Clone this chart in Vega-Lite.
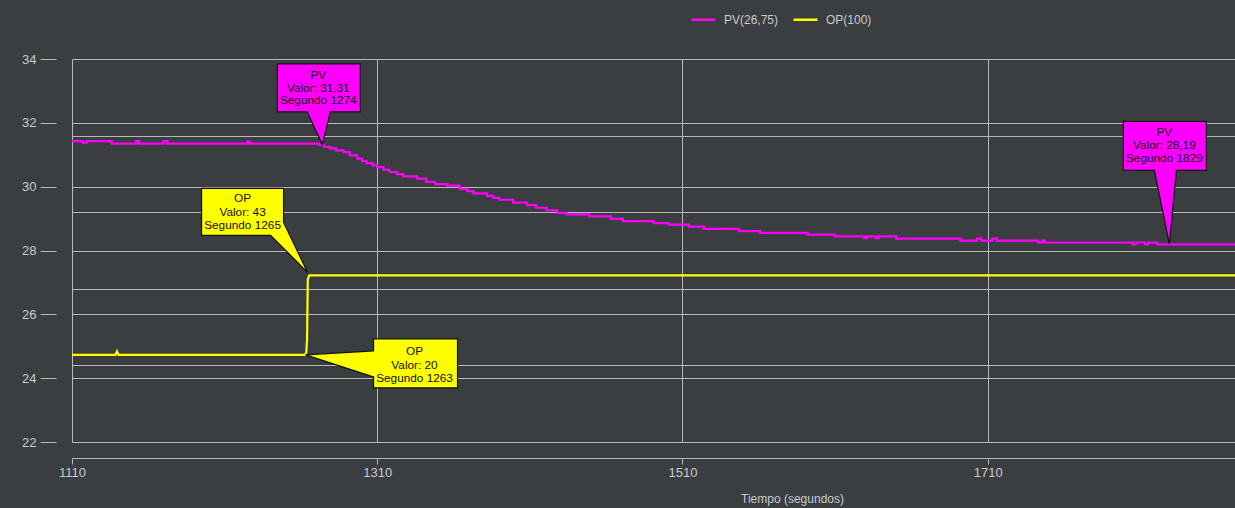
{
  "$schema": "https://vega.github.io/schema/vega-lite/v6.json",
  "width": 1163,
  "height": 383,
  "autosize": {"type": "none"},
  "padding": {"left": 72, "top": 59, "right": 0, "bottom": 66},
  "background": "#3b3e41",
  "config": {"view": {"stroke": null}, "font": "Liberation Sans"},
  "datasets": {
    "lineas": [
      {"serie": "PV(26,75)", "t": 1110, "v": 31.43},
      {"serie": "PV(26,75)", "t": 1117, "v": 31.37},
      {"serie": "PV(26,75)", "t": 1119.5, "v": 31.43},
      {"serie": "PV(26,75)", "t": 1136, "v": 31.35},
      {"serie": "PV(26,75)", "t": 1152, "v": 31.43},
      {"serie": "PV(26,75)", "t": 1154, "v": 31.35},
      {"serie": "PV(26,75)", "t": 1170, "v": 31.43},
      {"serie": "PV(26,75)", "t": 1172.5, "v": 31.35},
      {"serie": "PV(26,75)", "t": 1225, "v": 31.41},
      {"serie": "PV(26,75)", "t": 1226.5, "v": 31.35},
      {"serie": "PV(26,75)", "t": 1272, "v": 31.31},
      {"serie": "PV(26,75)", "t": 1275, "v": 31.25},
      {"serie": "PV(26,75)", "t": 1279, "v": 31.2},
      {"serie": "PV(26,75)", "t": 1283, "v": 31.14},
      {"serie": "PV(26,75)", "t": 1288, "v": 31.08},
      {"serie": "PV(26,75)", "t": 1292, "v": 30.98},
      {"serie": "PV(26,75)", "t": 1297, "v": 30.88},
      {"serie": "PV(26,75)", "t": 1300, "v": 30.8},
      {"serie": "PV(26,75)", "t": 1303, "v": 30.74},
      {"serie": "PV(26,75)", "t": 1307, "v": 30.67},
      {"serie": "PV(26,75)", "t": 1310, "v": 30.61},
      {"serie": "PV(26,75)", "t": 1314, "v": 30.53},
      {"serie": "PV(26,75)", "t": 1318, "v": 30.46},
      {"serie": "PV(26,75)", "t": 1323, "v": 30.39},
      {"serie": "PV(26,75)", "t": 1327, "v": 30.32},
      {"serie": "PV(26,75)", "t": 1336, "v": 30.25},
      {"serie": "PV(26,75)", "t": 1342, "v": 30.15},
      {"serie": "PV(26,75)", "t": 1348, "v": 30.08},
      {"serie": "PV(26,75)", "t": 1356, "v": 30.03},
      {"serie": "PV(26,75)", "t": 1364, "v": 29.93},
      {"serie": "PV(26,75)", "t": 1369, "v": 29.86},
      {"serie": "PV(26,75)", "t": 1373, "v": 29.79},
      {"serie": "PV(26,75)", "t": 1382, "v": 29.71},
      {"serie": "PV(26,75)", "t": 1386, "v": 29.65},
      {"serie": "PV(26,75)", "t": 1390, "v": 29.59},
      {"serie": "PV(26,75)", "t": 1399, "v": 29.5},
      {"serie": "PV(26,75)", "t": 1408, "v": 29.42},
      {"serie": "PV(26,75)", "t": 1414, "v": 29.34},
      {"serie": "PV(26,75)", "t": 1421, "v": 29.26},
      {"serie": "PV(26,75)", "t": 1428, "v": 29.18},
      {"serie": "PV(26,75)", "t": 1434, "v": 29.13},
      {"serie": "PV(26,75)", "t": 1449, "v": 29.07},
      {"serie": "PV(26,75)", "t": 1463, "v": 28.99},
      {"serie": "PV(26,75)", "t": 1471, "v": 28.92},
      {"serie": "PV(26,75)", "t": 1491, "v": 28.86},
      {"serie": "PV(26,75)", "t": 1501, "v": 28.81},
      {"serie": "PV(26,75)", "t": 1514, "v": 28.75},
      {"serie": "PV(26,75)", "t": 1524, "v": 28.68},
      {"serie": "PV(26,75)", "t": 1547, "v": 28.61},
      {"serie": "PV(26,75)", "t": 1561, "v": 28.55},
      {"serie": "PV(26,75)", "t": 1592, "v": 28.5},
      {"serie": "PV(26,75)", "t": 1610, "v": 28.44},
      {"serie": "PV(26,75)", "t": 1629, "v": 28.39},
      {"serie": "PV(26,75)", "t": 1631, "v": 28.44},
      {"serie": "PV(26,75)", "t": 1636.5, "v": 28.39},
      {"serie": "PV(26,75)", "t": 1638.5, "v": 28.44},
      {"serie": "PV(26,75)", "t": 1650, "v": 28.37},
      {"serie": "PV(26,75)", "t": 1692, "v": 28.31},
      {"serie": "PV(26,75)", "t": 1703, "v": 28.37},
      {"serie": "PV(26,75)", "t": 1706, "v": 28.31},
      {"serie": "PV(26,75)", "t": 1713, "v": 28.37},
      {"serie": "PV(26,75)", "t": 1716, "v": 28.31},
      {"serie": "PV(26,75)", "t": 1743, "v": 28.25},
      {"serie": "PV(26,75)", "t": 1745.5, "v": 28.31},
      {"serie": "PV(26,75)", "t": 1747.5, "v": 28.25},
      {"serie": "PV(26,75)", "t": 1805, "v": 28.19},
      {"serie": "PV(26,75)", "t": 1807, "v": 28.25},
      {"serie": "PV(26,75)", "t": 1813, "v": 28.19},
      {"serie": "PV(26,75)", "t": 1815, "v": 28.25},
      {"serie": "PV(26,75)", "t": 1821, "v": 28.19},
      {"serie": "PV(26,75)", "t": 1872, "v": 28.19},
      {"serie": "OP(100)", "t": 1110, "v": 24.73},
      {"serie": "OP(100)", "t": 1138.5, "v": 24.73},
      {"serie": "OP(100)", "t": 1139.5, "v": 24.84},
      {"serie": "OP(100)", "t": 1140.5, "v": 24.73},
      {"serie": "OP(100)", "t": 1262.5, "v": 24.73},
      {"serie": "OP(100)", "t": 1263.5, "v": 24.8},
      {"serie": "OP(100)", "t": 1264, "v": 25.2},
      {"serie": "OP(100)", "t": 1264.5, "v": 27.1},
      {"serie": "OP(100)", "t": 1265.5, "v": 27.22},
      {"serie": "OP(100)", "t": 1872, "v": 27.22}
    ],
    "notas": [
      {"id": "a1", "serie": "PV", "valor": "31,31", "t": 1274, "v": 31.31},
      {"id": "a2", "serie": "OP", "valor": "43", "t": 1265, "v": 27.22},
      {"id": "a3", "serie": "OP", "valor": "20", "t": 1263, "v": 24.73},
      {"id": "a4", "serie": "PV", "valor": "28,19", "t": 1829, "v": 28.19}
    ]
  },
  "layer": [
    {
      "data": {"name": "lineas"},
      "transform": [{"filter": "datum.serie === 'PV(26,75)'"}],
      "mark": {"type": "line", "interpolate": "step-after", "strokeWidth": 2.2},
      "encoding": {
        "x": {
          "field": "t", "type": "quantitative",
          "scale": {"domain": [1110, 1872], "nice": false, "zero": false},
          "axis": {
            "values": [1110, 1310, 1510, 1710], "format": "d", "tickCount": 20,
            "title": "Tiempo (segundos)",
            "offset": 16, "tickSize": 6, "labelPadding": 2, "labelFlush": false,
            "domain": true, "domainColor": "#b8b8b8", "tickColor": "#b8b8b8",
            "gridColor": "#b8b8b8", "gridOpacity": 1,
            "labelColor": "#c8cbd0", "labelFontSize": 13,
            "titleColor": "#c8cbd0", "titleFontSize": 12, "titleFontWeight": "normal",
            "titleX": 720, "titleY": 40, "titleBaseline": "middle", "titleAlign": "center"
          }
        },
        "y": {
          "field": "v", "type": "quantitative",
          "scale": {"domain": [22, 34], "nice": false, "zero": false},
          "axis": {
            "values": [22, 24, 26, 28, 30, 32, 34, 24.4, 26.8, 29.2, 31.6], "tickCount": 30,
            "format": "d",
            "title": null, "offset": 16, "tickSize": 16, "labelPadding": 4, "domain": false,
            "labelOverlap": false,
            "labelExpr": "datum.value % 2 === 0 ? datum.label : ''",
            "tickOpacity": {"condition": {"test": "datum.value % 2 === 0", "value": 1}, "value": 0},
            "gridColor": "#b8b8b8", "gridOpacity": 1, "tickColor": "#b8b8b8",
            "labelColor": "#c8cbd0", "labelFontSize": 13
          }
        },
        "color": {
          "field": "serie", "type": "nominal",
          "scale": {"domain": ["PV(26,75)", "OP(100)"], "range": ["#ff00ff", "#ffff00"]},
          "legend": {
            "orient": "none", "legendX": 618, "legendY": -53, "direction": "horizontal",
            "title": null, "symbolType": "stroke", "symbolSize": 576, "symbolStrokeWidth": 2.5,
            "labelColor": "#c8cbd0", "labelFontSize": 12, "labelOffset": 7,
            "columnPadding": 9, "padding": 0
          }
        }
      }
    },
    {
      "data": {"name": "lineas"},
      "transform": [{"filter": "datum.serie === 'OP(100)'"}],
      "mark": {"type": "line", "interpolate": "linear", "strokeWidth": 2.2},
      "encoding": {
        "x": {"field": "t", "type": "quantitative"},
        "y": {"field": "v", "type": "quantitative"},
        "color": {"field": "serie", "type": "nominal"}
      }
    },
    {
      "data": {"name": "notas"},
      "transform": [
        {"filter": "datum.id === 'a1'"},
        {"calculate": "datum.serie + '\\n' + 'Valor: ' + datum.valor + '\\n' + 'Segundo ' + datum.t", "as": "texto"}
      ],
      "layer": [
        {
          "mark": {"type": "point", "shape": "M0,0 L-15,-33 L-45,-33 L-45,-81 L38,-81 L38,-33 L8,-33 Z", "size": 4, "filled": true, "fill": "#ff00ff", "stroke": "#111111", "strokeWidth": 1.2, "opacity": 1},
          "encoding": {"x": {"field": "t", "type": "quantitative"}, "y": {"field": "v", "type": "quantitative"}}
        },
        {
          "mark": {"type": "text", "align": "center", "baseline": "top", "dx": -4, "dy": -75, "lineBreak": "\n", "lineHeight": 12.7, "fontSize": 11.8, "color": "#111111"},
          "encoding": {"x": {"field": "t", "type": "quantitative"}, "y": {"field": "v", "type": "quantitative"}, "text": {"field": "texto"}}
        }
      ]
    },
    {
      "data": {"name": "notas"},
      "transform": [
        {"filter": "datum.id === 'a2'"},
        {"calculate": "datum.serie + '\\n' + 'Valor: ' + datum.valor + '\\n' + 'Segundo ' + datum.t", "as": "texto"}
      ],
      "layer": [
        {
          "mark": {"type": "point", "shape": "M-1,-3 L-38,-40 L-107,-40 L-107,-87 L-25,-87 L-25,-53 Z", "size": 4, "filled": true, "fill": "#ffff00", "stroke": "#111111", "strokeWidth": 1.2, "opacity": 1},
          "encoding": {"x": {"field": "t", "type": "quantitative"}, "y": {"field": "v", "type": "quantitative"}}
        },
        {
          "mark": {"type": "text", "align": "center", "baseline": "top", "dx": -66, "dy": -82, "lineBreak": "\n", "lineHeight": 13.3, "fontSize": 11.8, "color": "#111111"},
          "encoding": {"x": {"field": "t", "type": "quantitative"}, "y": {"field": "v", "type": "quantitative"}, "text": {"field": "texto"}}
        }
      ]
    },
    {
      "data": {"name": "notas"},
      "transform": [
        {"filter": "datum.id === 'a3'"},
        {"calculate": "datum.serie + '\\n' + 'Valor: ' + datum.valor + '\\n' + 'Segundo ' + datum.t", "as": "texto"}
      ],
      "layer": [
        {
          "mark": {"type": "point", "shape": "M0,0 L68,-4 L68,-16 L152,-16 L152,33 L68,33 L68,22 Z", "size": 4, "filled": true, "fill": "#ffff00", "stroke": "#111111", "strokeWidth": 1.2, "opacity": 1},
          "encoding": {"x": {"field": "t", "type": "quantitative"}, "y": {"field": "v", "type": "quantitative"}}
        },
        {
          "mark": {"type": "text", "align": "center", "baseline": "top", "dx": 109, "dy": -9, "lineBreak": "\n", "lineHeight": 13.8, "fontSize": 11.8, "color": "#111111"},
          "encoding": {"x": {"field": "t", "type": "quantitative"}, "y": {"field": "v", "type": "quantitative"}, "text": {"field": "texto"}}
        }
      ]
    },
    {
      "data": {"name": "notas"},
      "transform": [
        {"filter": "datum.id === 'a4'"},
        {"calculate": "datum.serie + '\\n' + 'Valor: ' + datum.valor + '\\n' + 'Segundo ' + datum.t", "as": "texto"}
      ],
      "layer": [
        {
          "mark": {"type": "point", "shape": "M0,0 L-15,-74 L-46,-74 L-46,-123 L37,-123 L37,-74 L7,-74 Z", "size": 4, "filled": true, "fill": "#ff00ff", "stroke": "#111111", "strokeWidth": 1.2, "opacity": 1},
          "encoding": {"x": {"field": "t", "type": "quantitative"}, "y": {"field": "v", "type": "quantitative"}}
        },
        {
          "mark": {"type": "text", "align": "center", "baseline": "top", "dx": -5, "dy": -117, "lineBreak": "\n", "lineHeight": 13, "fontSize": 11.8, "color": "#111111"},
          "encoding": {"x": {"field": "t", "type": "quantitative"}, "y": {"field": "v", "type": "quantitative"}, "text": {"field": "texto"}}
        }
      ]
    }
  ]
}
